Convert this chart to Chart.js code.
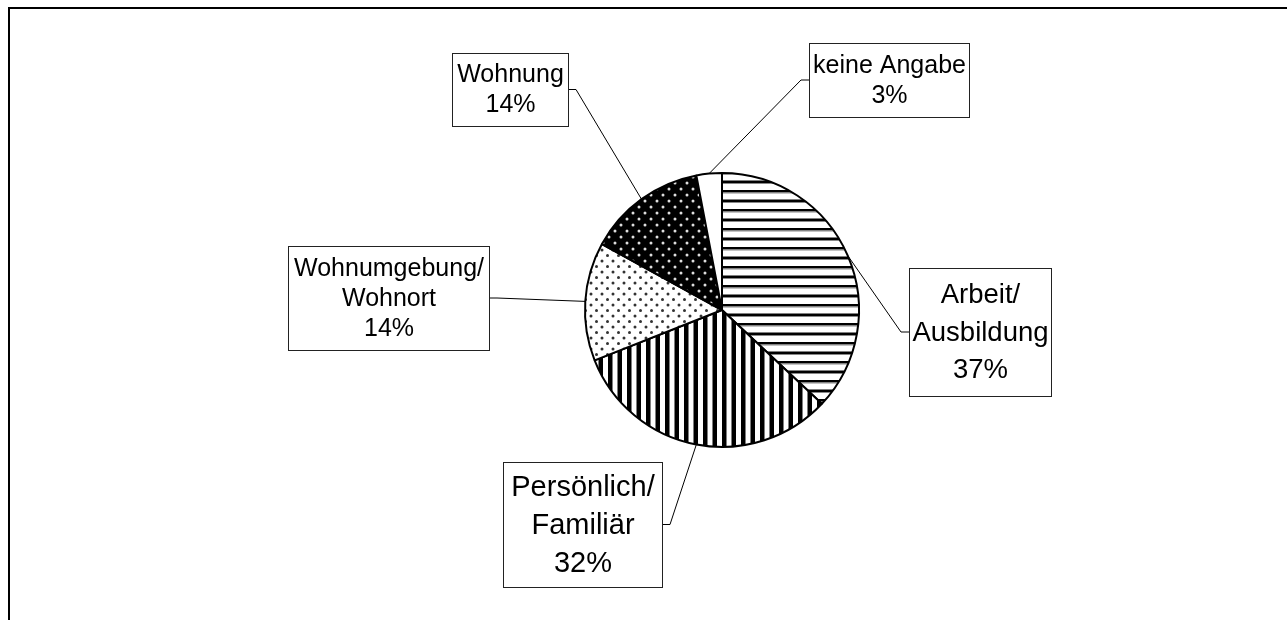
<!DOCTYPE html>
<html>
<head>
<meta charset="utf-8">
<script src="https://cdn.jsdelivr.net/npm/chart.js@4"></script>
<style>
    html, body { margin: 0; padding: 0; background: #fff; overflow: hidden; }
    #frame {
        position: absolute; left: 8px; top: 7px;
        width: 1400px; height: 700px;
        border-left: 2px solid #000; border-top: 2px solid #000;
    }
    #wrap { position: absolute; left: 0; top: 0; width: 1287px; height: 620px; }
</style>
</head>
<body>
<div id="frame"></div>
<div id="wrap"><canvas id="pie"></canvas></div>
<script>
// Data
const categories = ['Arbeit/\nAusbildung', 'Persönlich/\nFamiliär', 'Wohnumgebung/\nWohnort', 'Wohnung', 'keine Angabe'];
const shares = [37, 32, 14, 14, 3];

// Label boxes (layout only)
const boxes = [
    { x: 909, y: 268, w: 142, h: 128, font: 27.5, lh: 37.5 },
    { x: 503, y: 462, w: 159, h: 125, font: 29, lh: 38 },
    { x: 288, y: 246, w: 201, h: 104, font: 25, lh: 30 },
    { x: 452, y: 53, w: 116, h: 73, font: 25, lh: 30 },
    { x: 809, y: 43, w: 160, h: 74, font: 25, lh: 30 },
];

function tile(w, h, draw) {
    const c = document.createElement('canvas');
    c.width = w; c.height = h;
    const g = c.getContext('2d');
    draw(g, w, h);
    return document.getElementById('pie').getContext('2d').createPattern(c, 'repeat');
}

const hStripes = tile(19, 19, (g, w) => {
    g.fillStyle = '#fff'; g.fillRect(0, 0, w, 19);
    g.fillStyle = '#000';
    g.fillRect(0, 0, w, 2.5);
    g.fillRect(0, 9.5, w, 2.5);
    g.fillStyle = '#888';
    g.fillRect(0, 2.5, w, 1);
    g.fillRect(0, 12, w, 1);
});
const vStripes = tile(19, 19, (g, w, h) => {
    g.fillStyle = '#fff'; g.fillRect(0, 0, w, h);
    g.fillStyle = '#000';
    g.fillRect(0, 0, 4.5, h);
    g.fillRect(9.5, 0, 4.5, h);
});
const lightDots = tile(11, 11, (g, w, h) => {
    g.fillStyle = '#fff'; g.fillRect(0, 0, w, h);
    g.fillStyle = '#333';
    [[2.5, 2.5], [8, 8]].forEach(([x, y]) => {
        g.beginPath(); g.arc(x, y, 1.5, 0, Math.PI * 2); g.fill();
    });
});
const darkDots = tile(12, 12, (g, w, h) => {
    g.fillStyle = '#000'; g.fillRect(0, 0, w, h);
    g.fillStyle = '#ddd';
    [[3, 3], [9, 9]].forEach(([x, y]) => {
        g.beginPath(); g.arc(x, y, 1.5, 0, Math.PI * 2); g.fill();
    });
});
const fills = [hStripes, vStripes, lightDots, darkDots, '#fff'];

const calloutPlugin = {
    id: 'callouts',
    afterDraw(chart) {
        const ctx = chart.ctx;
        const arcs = chart.getDatasetMeta(0).data;
        ctx.save();
        arcs.forEach((arc, i) => {
            const b = boxes[i];
            const mid = (arc.startAngle + arc.endAngle) / 2;
            const px = arc.x + Math.cos(mid) * arc.outerRadius;
            const py = arc.y + Math.sin(mid) * arc.outerRadius;
            const left = b.x + b.w / 2 > arc.x;
            const ex = left ? b.x : b.x + b.w;
            const ey = b.y + b.h / 2;
            const kx = left ? ex - 8 : ex + 8;

            ctx.strokeStyle = '#000';
            ctx.lineWidth = 1;
            ctx.beginPath();
            ctx.moveTo(px, py);
            ctx.lineTo(kx, ey);
            ctx.lineTo(ex, ey);
            ctx.stroke();

            ctx.fillStyle = '#fff';
            ctx.fillRect(b.x, b.y, b.w, b.h);
            ctx.strokeStyle = '#222';
            ctx.strokeRect(b.x + 0.5, b.y + 0.5, b.w, b.h);

            const lines = categories[i].split('\n').concat(shares[i] + '%');
            ctx.fillStyle = '#000';
            ctx.font = b.font + 'px "Liberation Sans", Arial, sans-serif';
            ctx.textAlign = 'center';
            ctx.textBaseline = 'middle';
            const top = ey - (lines.length - 1) * b.lh / 2;
            lines.forEach((t, j) => ctx.fillText(t, b.x + b.w / 2 + 0.5, top + j * b.lh + 1));
        });
        ctx.restore();
    }
};

new Chart(document.getElementById('pie'), {
    type: 'pie',
    data: {
        labels: categories,
        datasets: [{
            data: shares,
            backgroundColor: fills,
            borderColor: '#000',
            borderWidth: 2,
        }]
    },
    options: {
        responsive: true,
        maintainAspectRatio: false,
        animation: false,
        layout: { padding: { left: 584, right: 427, top: 172, bottom: 172 } },
        plugins: {
            legend: { display: false },
            tooltip: { enabled: false },
        }
    },
    plugins: [calloutPlugin]
});
</script>
</body>
</html>
